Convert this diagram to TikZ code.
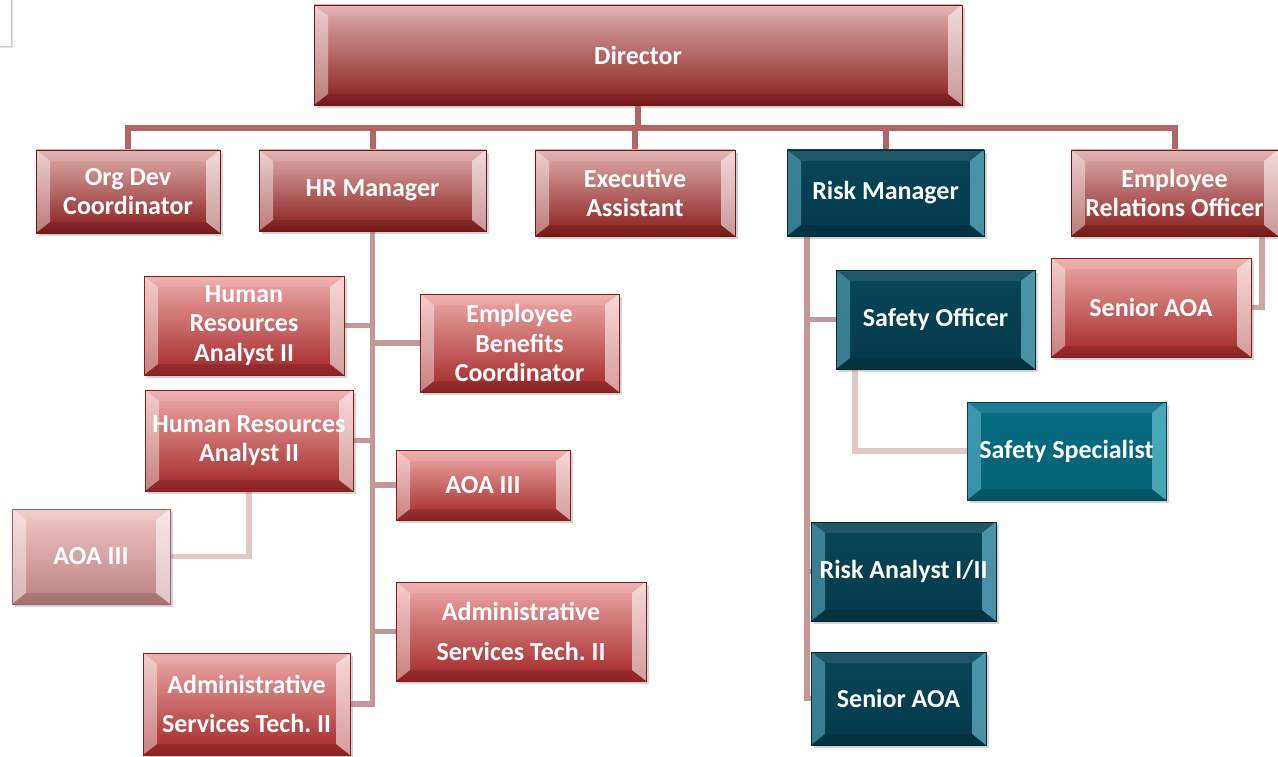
\documentclass[tikz,border=0pt]{standalone}
\usepackage{fontspec}
\setmainfont{Carlito}
\usepackage{tikz}
\usetikzlibrary{shadows}
\usetikzlibrary{backgrounds}

\definecolor{redtop}{RGB}{224,174,174}
\definecolor{redmid}{RGB}{196,124,124}
\definecolor{redbot}{RGB}{136,28,28}
\definecolor{rosetop}{RGB}{238,170,170}
\definecolor{rosemid}{RGB}{212,122,122}
\definecolor{rosebot}{RGB}{162,38,38}
\definecolor{palemid}{RGB}{226,176,176}
\definecolor{paletop}{RGB}{242,200,200}
\definecolor{palebot}{RGB}{186,128,128}
\definecolor{tealtop}{RGB}{6,70,88}
\definecolor{tealbot}{RGB}{4,58,74}
\definecolor{cyantop}{RGB}{6,110,132}
\definecolor{cyanbot}{RGB}{4,96,116}
\definecolor{tealglow}{RGB}{130,215,235}
\definecolor{buscol}{RGB}{176,102,102}
\definecolor{spinecol}{RGB}{197,152,152}
\definecolor{linkcol}{RGB}{205,165,165}
\definecolor{faintcol}{RGB}{226,200,200}

\begin{document}
\begin{tikzpicture}[x=1pt, y=-1pt,
    glow/.store in=\glowcol, glow=white,
    tile/.style={rectangle, inner sep=0pt, align=center, text=white,
      font=\bfseries\fontsize{26}{29.5}\selectfont,
      drop shadow={shadow xshift=3pt, shadow yshift=-3pt, opacity=0.35},
      path picture={
        \coordinate (pa) at (path picture bounding box.south west);
        \coordinate (pb) at (path picture bounding box.north east);
        \fill[\glowcol, opacity=0.42] (pa) -- (pa |- pb) -- ([shift={(14pt,-11pt)}]pa |- pb)
          -- ([shift={(14pt,11pt)}]pa) -- cycle;
        \fill[\glowcol, opacity=0.55] (pb) -- (pb |- pa) -- ([shift={(-14pt,11pt)}]pb |- pa)
          -- ([shift={(-14pt,-11pt)}]pb) -- cycle;
        \fill[white, opacity=0.10] (pa |- pb) -- (pb) -- ([shift={(-14pt,-11pt)}]pb)
          -- ([shift={(14pt,-11pt)}]pa |- pb) -- cycle;
        \fill[black, opacity=0.12] (pa) -- (pb |- pa) -- ([shift={(-14pt,11pt)}]pb |- pa)
          -- ([shift={(14pt,11pt)}]pa) -- cycle;
      }},
    wh/.style 2 args={minimum width=#1pt, minimum height=#2pt},
    redtile/.style={tile, draw=redbot!80!black, top color=redtop, middle color=redmid, bottom color=redbot},
    rosetile/.style={tile, draw=rosebot!80!black, top color=rosetop, middle color=rosemid, bottom color=rosebot},
    paletile/.style={tile, draw=palebot!80!black, top color=paletop, middle color=palemid, bottom color=palebot},
    tealtile/.style={glow=tealglow, tile, draw=tealbot!70!black, top color=tealtop, bottom color=tealbot},
    cyantile/.style={glow=tealglow, tile, draw=cyanbot!70!black, top color=cyantop, bottom color=cyanbot},
    bus/.style={draw=buscol, line width=6pt},
    spine/.style={draw=spinecol, line width=5.5pt},
    erolink/.style={draw=linkcol, line width=5.5pt},
    faint/.style={draw=faintcol, line width=5.5pt}]
  \path[use as bounding box] (0,0) rectangle (1278,757);

  % bit of a box at the corner
  \draw[black!20, fill=white, drop shadow={shadow xshift=2pt, shadow yshift=-2pt, opacity=0.25}]
    (-10,-10) rectangle (11,46);

  \node[redtile, wh={648}{100}] (dir) at (638,55) {Director};

  \node[redtile, wh={184}{83}] (orgdev) at (128,191.5) {Org Dev\\Coordinator};
  \node[redtile, wh={227}{81}] (hrmgr) at (372.5,190.5) {HR Manager};
  \node[redtile, wh={200}{86}] (execasst) at (635,193) {Executive\\Assistant};
  \node[tealtile, wh={197}{86}] (riskmgr) at (885.5,193) {Risk Manager};
  \node[redtile, wh={207}{86}] (ero) at (1174.5,193) {Employee\\Relations Officer};

  \node[rosetile, wh={200}{99}] (seniorer) at (1151,307.5) {Senior AOA};

  \node[rosetile, wh={200}{99}] (hraone) at (244,325.5) {Human\\Resources\\Analyst II};
  \node[rosetile, wh={199}{98}] (ebc) at (519.5,343) {Employee\\Benefits\\Coordinator};
  \node[rosetile, wh={208}{101}] (hratwo) at (249,440.5) {Human Resources\\Analyst II};
  \node[rosetile, wh={174}{70}] (aoaright) at (483,485) {AOA III};
  \node[paletile, wh={158}{95}] (aoaleft) at (91,556.5) {AOA III};
  \node[rosetile, wh={250}{99}] (astright) at (521,631.5) {Administrative\\[10pt]Services Tech.\ II};
  \node[rosetile, wh={207}{102}] (astleft) at (246.5,704) {Administrative\\[10pt]Services Tech.\ II};

  \node[tealtile, wh={199}{99}] (safeoff) at (935.5,319.5) {Safety Officer};
  \node[cyantile, wh={199}{98}] (safespec) at (1066.5,451) {Safety Specialist};
  \node[tealtile, wh={185}{99}] (riskan) at (903.5,571.5) {Risk Analyst I/II};
  \node[tealtile, wh={175}{93}] (seniorrisk) at (898.5,698.5) {Senior AOA};

  \begin{scope}[on background layer]
    \coordinate (top) at (638,128);
    \foreach \n in {orgdev,hrmgr,execasst,riskmgr,ero}
      \draw[bus] (dir.south) |- (\n.north |- top) -- (\n.north);

    \foreach \n in {hraone,hratwo,astleft}
      \draw[spine] (hrmgr.south) |- (\n.east);
    \foreach \n in {ebc,aoaright,astright}
      \draw[spine] (hrmgr.south) |- (\n.west);

    \coordinate (riskstem) at ([xshift=20pt]riskmgr.south west);
    \foreach \n in {safeoff,riskan,seniorrisk}
      \draw[spine] (riskstem) |- (\n.west);

    \draw[erolink] ([xshift=-16pt]ero.south east) |- (seniorer.east);
    \draw[faint] (hratwo.south) |- (aoaleft.east);
    \draw[faint] ([xshift=19pt]safeoff.south west) |- (safespec.west);
  \end{scope}
\end{tikzpicture}
\end{document}
